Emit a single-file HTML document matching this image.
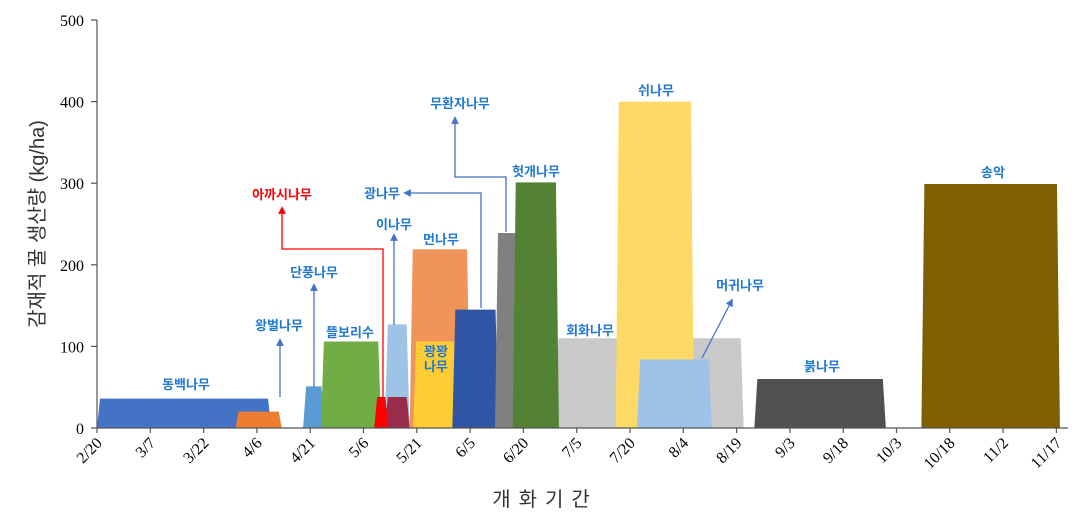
<!DOCTYPE html>
<html><head><meta charset="utf-8"><style>
body{margin:0;background:#fff;width:1078px;height:522px;overflow:hidden}
svg{display:block}
.lbl{font-family:"Liberation Sans","Noto Sans CJK KR",sans-serif;font-size:13px;fill:#1f78d1;text-anchor:middle;font-weight:bold}
.tick{font-family:"Liberation Serif",serif;font-size:16px;fill:#000}
</style></head><body>
<svg id="chart" width="1078" height="522" viewBox="0 0 1078 522">
<defs>
<marker id="ab" viewBox="0 0 10 10" refX="5" refY="5" markerWidth="6" markerHeight="6" orient="auto-start-reverse"><path d="M0,0L10,5L0,10z" fill="#4472c4"/></marker>
<marker id="ar" viewBox="0 0 10 10" refX="5" refY="5" markerWidth="6" markerHeight="6" orient="auto-start-reverse"><path d="M0,0L10,5L0,10z" fill="#ff0000"/></marker>
</defs>
<g id="bars"></g>
<g id="axes"></g>
<g id="annot" fill="none" stroke-width="1.3">
<path d="M280,397V342" stroke="#4472c4" marker-end="url(#ab)"/>
<path d="M314,387V287" stroke="#4472c4" marker-end="url(#ab)"/>
<path d="M383,400V249H282V210" stroke="#ff0000" marker-end="url(#ar)"/>
<path d="M394,325V237" stroke="#4472c4" marker-end="url(#ab)"/>
<path d="M481,308V193H407" stroke="#4472c4" marker-end="url(#ab)"/>
<path d="M506,232V177H455V120" stroke="#4472c4" marker-end="url(#ab)"/>
<path d="M702,358L731,302" stroke="#4472c4" marker-end="url(#ab)"/>
</g>
<g id="labels">
<text class="lbl" x="186" y="389">동백나무</text>
<text class="lbl" x="279" y="330">왕벌나무</text>
<text class="lbl" x="314" y="277">단풍나무</text>
<text class="lbl" x="350" y="337">뜰보리수</text>
<text class="lbl" x="282" y="199" style="fill:#ff0000">아까시나무</text>
<text class="lbl" x="382" y="198">광나무</text>
<text class="lbl" x="394" y="229">이나무</text>
<text class="lbl" x="441" y="244">먼나무</text>
<text class="lbl" x="436" y="356">꽝꽝</text>
<text class="lbl" x="436" y="371">나무</text>
<text class="lbl" x="460" y="108">무환자나무</text>
<text class="lbl" x="536" y="176">헛개나무</text>
<text class="lbl" x="590" y="335">회화나무</text>
<text class="lbl" x="656" y="95">쉬나무</text>
<text class="lbl" x="740" y="290">머귀나무</text>
<text class="lbl" x="822" y="371">붉나무</text>
<text class="lbl" x="993" y="177">송악</text>
</g>
<text transform="translate(44,224) rotate(-90)" text-anchor="middle" font-family="Liberation Sans,Noto Sans CJK KR,sans-serif" font-size="20" fill="#333">감재적 꿀 생산량 (kg/ha)</text>
<text x="545" y="506" text-anchor="middle" font-family="Liberation Sans,Noto Sans CJK KR,sans-serif" font-size="20" fill="#333" letter-spacing="8">개화기간</text>
</svg>
<script>
const tickLabels=["2/20","3/7","3/22","4/6","4/21","5/6","5/21","6/5","6/20","7/5","7/20","8/4","8/19","9/3","9/18","10/3","10/18","11/2","11/17"];
const yTicks=[0,100,200,300,400,500];
const species=["dongbaek","wangbeot","danpung","tteulborisu","akasi","inamu","maroon","meon","kwangkwang","dark-blue","gray","hetgae","hoehwa","swi","meogwi","bulk","songak"];
const startDays=[0,39,58,63,78,81,81,88,89,100,112,117,129,146,152,185,232];
const endDays=[49,52,64,80,82,88,88,105,102,113,119,130,182,168,173,222,271];
const values=[36,20,51,106,38,127,38,219,106,145,239,301,110,400,84,60,299];
const colors=["#4472c4","#ed7d31","#5b9bd5","#70ad47","#ff0000","#9dc3e6","#982c4a","#f0955a","#ffcc33","#2f55a4","#808080","#548235","#c9c9c9","#ffd966","#9dc3e6","#505050","#7f6000"];
const order=[0,1,2,3,12,13,14,5,6,4,7,8,9,10,11,15,16];
const X0=97,PXD=53.3/15,Y0=428,PXV=408/500;
const xs=d=>X0+d*PXD, ys=v=>Y0-v*PXV;
const NS="http://www.w3.org/2000/svg";
const bars=document.getElementById('bars'),axes=document.getElementById('axes');
order.forEach(i=>{
 const p=document.createElementNS(NS,'polygon');
 const a=xs(startDays[i]),b=xs(endDays[i]),t=ys(values[i]),s=3;
 p.setAttribute('points',`${a},${Y0} ${a+s},${t} ${b-s},${t} ${b},${Y0}`);
 p.setAttribute('fill',colors[i]);
 
 
 bars.appendChild(p);
});
function ln(x1,y1,x2,y2,name){const l=document.createElementNS(NS,'line');l.setAttribute('x1',x1);l.setAttribute('y1',y1);l.setAttribute('x2',x2);l.setAttribute('y2',y2);l.setAttribute('stroke','#555');l.setAttribute('stroke-width','1.2');


axes.appendChild(l);}
ln(97,20,97,Y0,'y-axis-line');ln(97,Y0,1068,Y0,'x-axis-line');
yTicks.forEach(v=>{ln(91,ys(v),97,ys(v),'y-tick');
 const t=document.createElementNS(NS,'text');t.setAttribute('x',84);t.setAttribute('y',ys(v)+6);t.setAttribute('text-anchor','end');t.setAttribute('class','tick');t.textContent=v;
 
 
 axes.appendChild(t);});
tickLabels.forEach((s,k)=>{const x=xs(k*15);ln(x,Y0,x,Y0+5,'x-tick');
 const t=document.createElementNS(NS,'text');t.setAttribute('transform',`translate(${x+6},${Y0+16}) rotate(-45)`);t.setAttribute('text-anchor','end');t.setAttribute('class','tick');t.textContent=s;
 
 
 axes.appendChild(t);});
</script>
</body></html>
